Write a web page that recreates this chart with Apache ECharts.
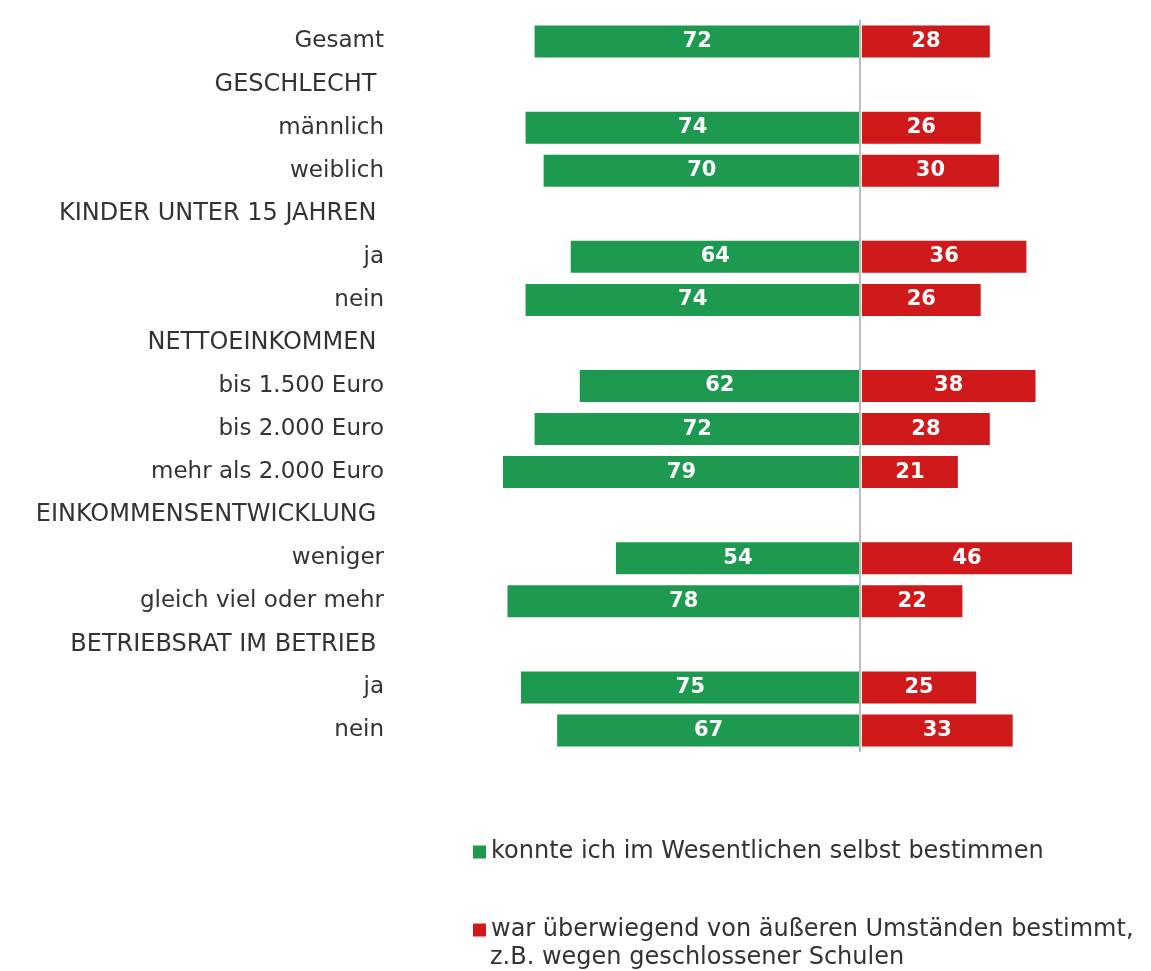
<!DOCTYPE html>
<html>
<head>
<meta charset="utf-8">
<script src="https://cdn.jsdelivr.net/npm/echarts@6/dist/echarts.min.js"></script>
<style>
  html, body { margin: 0; padding: 0; background: #fff; }
  #chart { width: 1151px; height: 971px; }
</style>
</head>
<body>
<div id="chart"></div>
<script>
const categories = [
  "Gesamt", "GESCHLECHT ", "männlich", "weiblich", "KINDER UNTER 15 JAHREN ",
  "ja", "nein", "NETTOEINKOMMEN ", "bis 1.500 Euro", "bis 2.000 Euro",
  "mehr als 2.000 Euro", "EINKOMMENSENTWICKLUNG ", "weniger", "gleich viel oder mehr",
  "BETRIEBSRAT IM BETRIEB ", "ja", "nein"
];
const selbstBestimmt = [72, null, 74, 70, null, 64, 74, null, 62, 72, 79, null, 54, 78, null, 75, 67];
const aeussereUmstaende = [28, null, 26, 30, null, 36, 26, null, 38, 28, 21, null, 46, 22, null, 25, 33];
const seriesNames = [
  "konnte ich im Wesentlichen selbst bestimmen",
  "war überwiegend von äußeren Umständen bestimmt,"
];
const legendSecondLine = "z.B. wegen geschlossener Schulen";

const GREEN = "#1d9a50";
const RED = "#d0191b";
const FONT = "DejaVu Sans";

const chart = echarts.init(document.getElementById("chart"));

const legendBase = {
  orient: "vertical",
  left: 473,
  padding: 0,
  itemWidth: 13,
  itemHeight: 13,
  icon: "rect",
  textStyle: { fontSize: 24, color: "#333", fontFamily: FONT }
};

// Überschriften (Großbuchstaben) etwas größer
const isHeader = (s) => s.trim() === s.trim().toUpperCase();

const option = {
  animation: false,
  textStyle: { fontFamily: FONT },
  grid: { left: 390, right: 20, top: 20, height: 732, containLabel: false },
  legend: [
    Object.assign({}, legendBase, { data: [seriesNames[0]], top: 840 }),
    Object.assign({}, legendBase, { data: [seriesNames[1]], top: 918 })
  ],
  graphic: [
    {
      type: "text",
      left: 490,
      top: 946,
      style: { text: legendSecondLine, fontSize: 24, fill: "#333", fontFamily: FONT }
    }
  ],
  xAxis: [
    { type: "value", min: -104, max: 60, show: false },
    { type: "value", min: -103.3, max: 58.9, show: false }
  ],
  yAxis: {
    type: "category",
    inverse: true,
    data: categories,
    axisLine: { show: false },
    axisTick: { show: false },
    splitLine: { show: false },
    axisLabel: {
      margin: 6,
      formatter: (v) => (isHeader(v) ? "{h|" + v + "}" : "{n|" + v + "}"),
      rich: {
        n: { fontSize: 23, color: "#333", fontFamily: FONT },
        h: { fontSize: 24, color: "#333", fontFamily: FONT }
      }
    }
  },
  series: [
    {
      name: seriesNames[0],
      type: "bar",
      xAxisIndex: 0,
      barWidth: 32,
      barGap: "-100%",
      itemStyle: { color: GREEN },
      data: selbstBestimmt.map((v) => (v == null ? null : -v)),
      label: {
        show: true,
        position: "inside",
        color: "#fff",
        fontWeight: "bold",
        fontSize: 21,
        formatter: (p) => Math.abs(p.value)
      },
      markLine: {
        silent: true,
        symbol: "none",
        label: { show: false },
        lineStyle: { color: "#bdbdbd", width: 2, type: "solid" },
        data: [{ xAxis: 0 }]
      }
    },
    {
      name: seriesNames[1],
      type: "bar",
      xAxisIndex: 1,
      barWidth: 32,
      barGap: "-100%",
      itemStyle: { color: RED },
      data: aeussereUmstaende,
      label: {
        show: true,
        position: "inside",
        color: "#fff",
        fontWeight: "bold",
        fontSize: 21
      }
    }
  ]
};

chart.setOption(option);
window.addEventListener("resize", () => chart.resize());
</script>
</body>
</html>
